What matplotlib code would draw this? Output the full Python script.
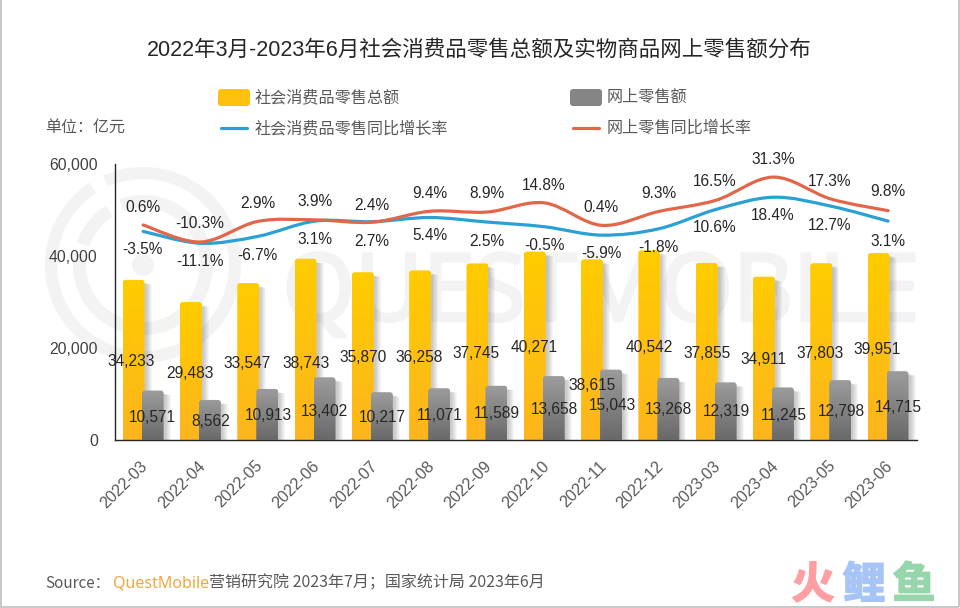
import numpy as np
import matplotlib
matplotlib.use('Agg')
import matplotlib.pyplot as plt
import matplotlib.patheffects as pe
from matplotlib.patches import PathPatch, Rectangle, Wedge, Circle, FancyBboxPatch
from matplotlib.path import Path
from matplotlib.transforms import ScaledTranslation

plt.rcParams['font.family'] = ['Liberation Sans', 'Noto Sans CJK SC', 'DejaVu Sans']

months = ['2022-03', '2022-04', '2022-05', '2022-06', '2022-07', '2022-08', '2022-09',
          '2022-10', '2022-11', '2022-12', '2023-03', '2023-04', '2023-05', '2023-06']
total_sales = [34233, 29483, 33547, 38743, 35870, 36258, 37745,
               40271, 38615, 40542, 37855, 34911, 37803, 39951]
online_sales = [10571, 8562, 10913, 13402, 10217, 11071, 11589,
                13658, 15043, 13268, 12319, 11245, 12798, 14715]
total_growth = [-3.5, -11.1, -6.7, 3.1, 2.7, 5.4, 2.5, -0.5, -5.9, -1.8, 10.6, 18.4, 12.7, 3.1]
online_growth = [0.6, -10.3, 2.9, 3.9, 2.4, 9.4, 8.9, 14.8, 0.4, 9.3, 16.5, 31.3, 17.3, 9.8]

# label centres, figure pixels
total_label_xy = [(131, 362), (190, 373), (247, 363), (306, 364), (363, 358), (419, 357), (476, 354),
                  (534, 348), (592, 385), (649, 347), (707, 353), (763, 360), (820, 354), (877, 349)]
online_label_xy = [(152, 417), (211, 421), (268, 415), (325, 411), (382, 417), (440, 415), (497, 414),
                   (554, 409), (612, 406), (669, 410), (726, 412), (784, 415), (841, 411), (898, 407)]
total_growth_xy = [(142, 250), (200, 262), (257, 255), (315, 240), (372, 241), (430, 236), (487, 241),
                   (544, 245), (601, 253), (658, 248), (715, 228), (773, 216), (830, 225), (888, 241)]
online_growth_xy = [(143, 207), (200, 223), (258, 204), (315, 201), (372, 205), (430, 194), (487, 194),
                    (544, 186), (601, 207), (659, 193), (715, 182), (773, 159), (830, 181), (888, 192)]

W, H = 960, 608
AX_L, AX_R, AX_T, AX_B = 114.5, 916.7, 164, 440
YMAX = 59000  # bars in the source run a little taller than its tick labels imply
BAR_W = 22 / 57.3
BAR_OFF = 9.5 / 57.3
TEXT_GREY = '#595959'
DARK = '#262626'
BLUE = '#2AA0D4'
RED = '#E2674A'
CJK_FIRST = ['Noto Sans CJK SC', 'DejaVu Sans']


def smooth_path(xs, ys):
    # catmull-rom through the points, written as bezier segments
    pts = np.column_stack([xs, ys])
    verts = [pts[0]]
    codes = [Path.MOVETO]
    for i in range(len(pts) - 1):
        p0 = pts[max(i - 1, 0)]
        p1, p2 = pts[i], pts[i + 1]
        p3 = pts[min(i + 2, len(pts) - 1)]
        verts += [p1 + (p2 - p0) / 6, p2 - (p3 - p1) / 6, p2]
        codes += [Path.CURVE4] * 3
    return Path(verts, codes)


def gradient_bars(ax, rects, top_col, bot_col, zorder):
    ux = 1 / 57.3
    uy = YMAX / (AX_B - AX_T)
    c0 = np.array(matplotlib.colors.to_rgb(top_col))
    c1 = np.array(matplotlib.colors.to_rgb(bot_col))
    for r in rects:
        x0, x1, top = r.get_x(), r.get_x() + r.get_width(), r.get_height()
        # soft shadow on the right hand side
        for k in range(1, 7):
            ax.add_patch(Rectangle((x0 + 2 * ux, 0), x1 - x0 + (k - 1) * ux, top - 3 * uy + (1 - k) * uy * 0.3,
                                   fc='k', ec='none', alpha=0.035, zorder=zorder - 0.5))
        rx, ry = 3 * ux, 3 * uy
        path = Path([(x0, 0), (x0, top - ry), (x0, top), (x0 + rx, top), (x1 - rx, top),
                     (x1, top), (x1, top - ry), (x1, 0), (x0, 0)],
                    [Path.MOVETO, Path.LINETO, Path.CURVE3, Path.CURVE3, Path.LINETO,
                     Path.CURVE3, Path.CURVE3, Path.LINETO, Path.CLOSEPOLY])
        clip = PathPatch(path, fc='none', ec='none', transform=ax.transData)
        ax.add_patch(clip)
        grad = np.linspace(0, 1, 64)[:, None, None] * (c1 - c0) + c0
        im = ax.imshow(grad, extent=(x0, x1, 0, top), origin='upper', aspect='auto',
                       interpolation='bilinear', zorder=zorder)
        im.set_clip_path(clip)


fig = plt.figure(figsize=(W / 100, H / 100), dpi=100, facecolor='white')

# pixel canvas underneath everything: watermark, frame, logo
bg = fig.add_axes([0, 0, 1, 1], zorder=0)
bg.set_xlim(0, W)
bg.set_ylim(H, 0)
bg.axis('off')

WM = '#F3F3F3'
cx, cy = 143, 265
bg.add_patch(Wedge((cx, cy), 98, 0, 360, width=12, fc=WM, ec='none'))
bg.add_patch(Wedge((cx, cy), 98.5, 237, 246, width=13, fc='white', ec='none'))
bg.add_patch(Wedge((cx, cy), 70, 0, 360, width=13, fc=WM, ec='none'))
bg.add_patch(Wedge((cx, cy), 70.5, 238, 250, width=14, fc='white', ec='none'))
bg.add_patch(Wedge((cx, cy), 70.5, 190, 199, width=14, fc='white', ec='none'))
bg.add_patch(Circle((cx, cy), 11, fc=WM, ec='none'))
bg.text(601, 296, 'QUESTMOBILE', ha='center', va='center', fontsize=67, color=WM,
        family='Open Sans', path_effects=[pe.withStroke(linewidth=2.5, foreground=WM)])

for xs, ys in [((0.8, 0.8), (0, 607)), ((958.8, 958.8), (0, 607)), ((0, 959), (606.5, 606.5))]:
    bg.plot(xs, ys, color='#C8C8C8', lw=1.4, solid_capstyle='butt')

for ch, xp, col in [('火', 813, '#FF9FA3'), ('鲤', 864, '#A6C4F6'), ('鱼', 914, '#97D6AA')]:
    bg.text(xp, 585, ch, ha='center', va='center', fontsize=31, color=col,
            family='Noto Sans CJK SC', fontweight='bold',
            path_effects=[pe.withStroke(linewidth=1.2, foreground=col)])

# bars
ax = fig.add_axes([AX_L / W, 1 - AX_B / H, (AX_R - AX_L) / W, (AX_B - AX_T) / H], zorder=1)
ax.patch.set_visible(False)
x = np.arange(len(months))
bars_total = ax.bar(x - BAR_OFF, total_sales, BAR_W, color='none')
bars_online = ax.bar(x + BAR_OFF, online_sales, BAR_W, color='none')
gradient_bars(ax, bars_total, '#FFCC00', '#FDB51D', 2)
gradient_bars(ax, bars_online, '#9C9C9C', '#696969', 3)
ax.set_xlim(-0.5, len(months) - 0.5)
ax.set_ylim(0, YMAX)
ax.set_yticks([0, 19670, 39330, 59000])
ax.set_yticklabels(['0', '20,000', '40,000', '60,000'], color='#404040', fontsize=11.3)
ax.set_xticks(x)
ax.set_xticklabels(months, rotation=45, ha='right', rotation_mode='anchor',
                   color=TEXT_GREY, fontsize=11.6)
ax.tick_params(axis='y', length=0, pad=12)
ax.tick_params(axis='x', length=0, pad=13)
shift = ScaledTranslation(-3 / 100, 0, fig.dpi_scale_trans)
for lab in ax.get_xticklabels():
    lab.set_transform(lab.get_transform() + shift)
for side in ['top', 'right']:
    ax.spines[side].set_visible(False)
for side in ['left', 'bottom']:
    ax.spines[side].set_color('#262626')
    ax.spines[side].set_linewidth(1.0)

# growth lines on a hidden second axis
ax2 = ax.twinx()
ax2.set_zorder(2)
ax2.patch.set_visible(False)
ax2.set_ylim(-137.2, 39.7)
ax2.axis('off')
for vals, col in [(total_growth, BLUE), (online_growth, RED)]:
    ax2.add_patch(PathPatch(smooth_path(x, vals), fc='none', ec=col, lw=2.3, capstyle='round'))

# texts and legend on a pixel canvas on top
top = fig.add_axes([0, 0, 1, 1], zorder=5)
top.set_xlim(0, W)
top.set_ylim(H, 0)
top.axis('off')
top.patch.set_visible(False)

for vals, pos in [(total_sales, total_label_xy), (online_sales, online_label_xy)]:
    for v, (px, py) in zip(vals, pos):
        top.text(px, py, f'{v:,}', ha='center', va='center', fontsize=11.2, color=DARK)
for vals, pos in [(total_growth, total_growth_xy), (online_growth, online_growth_xy)]:
    for v, (px, py) in zip(vals, pos):
        top.text(px, py, f'{v}%', ha='center', va='center', fontsize=11.2, color=DARK)

top.text(479, 50, '2022年3月-2023年6月社会消费品零售总额及实物商品网上零售额分布',
         ha='center', va='center', fontsize=15.5, color=DARK)
top.text(45, 127.5, '单位：亿元', ha='left', va='center', fontsize=11.5, color=TEXT_GREY)

top.add_patch(FancyBboxPatch((220, 91), 28, 13, boxstyle='round,pad=2,rounding_size=3', fc='#FFC10E', ec='none'))
top.add_patch(FancyBboxPatch((572, 91), 28, 13, boxstyle='round,pad=2,rounding_size=3', fc='#858585', ec='none'))
top.plot([221, 247], [128, 128], color=BLUE, lw=2.3, solid_capstyle='round')
top.plot([573, 599], [128, 128], color=RED, lw=2.3, solid_capstyle='round')
top.text(255, 97, '社会消费品零售总额', ha='left', va='center', fontsize=11.6, color=TEXT_GREY)
top.text(607, 97, '网上零售额', ha='left', va='center', fontsize=11.6, color=TEXT_GREY)
top.text(255, 128, '社会消费品零售同比增长率', ha='left', va='center', fontsize=11.6, color=TEXT_GREY)
top.text(607, 128, '网上零售同比增长率', ha='left', va='center', fontsize=11.6, color=TEXT_GREY)

top.text(45, 583, 'Source：', ha='left', va='center', fontsize=11, color=TEXT_GREY, family=CJK_FIRST)
top.text(113, 583, 'QuestMobile', ha='left', va='center', fontsize=11.5, color='#F4A63C', family='Noto Sans')
top.text(209, 583, '营销研究院 2023年7月；国家统计局 2023年6月', ha='left', va='center',
         fontsize=11.5, color=TEXT_GREY, family=CJK_FIRST)

fig.savefig('out.png', dpi=100)
